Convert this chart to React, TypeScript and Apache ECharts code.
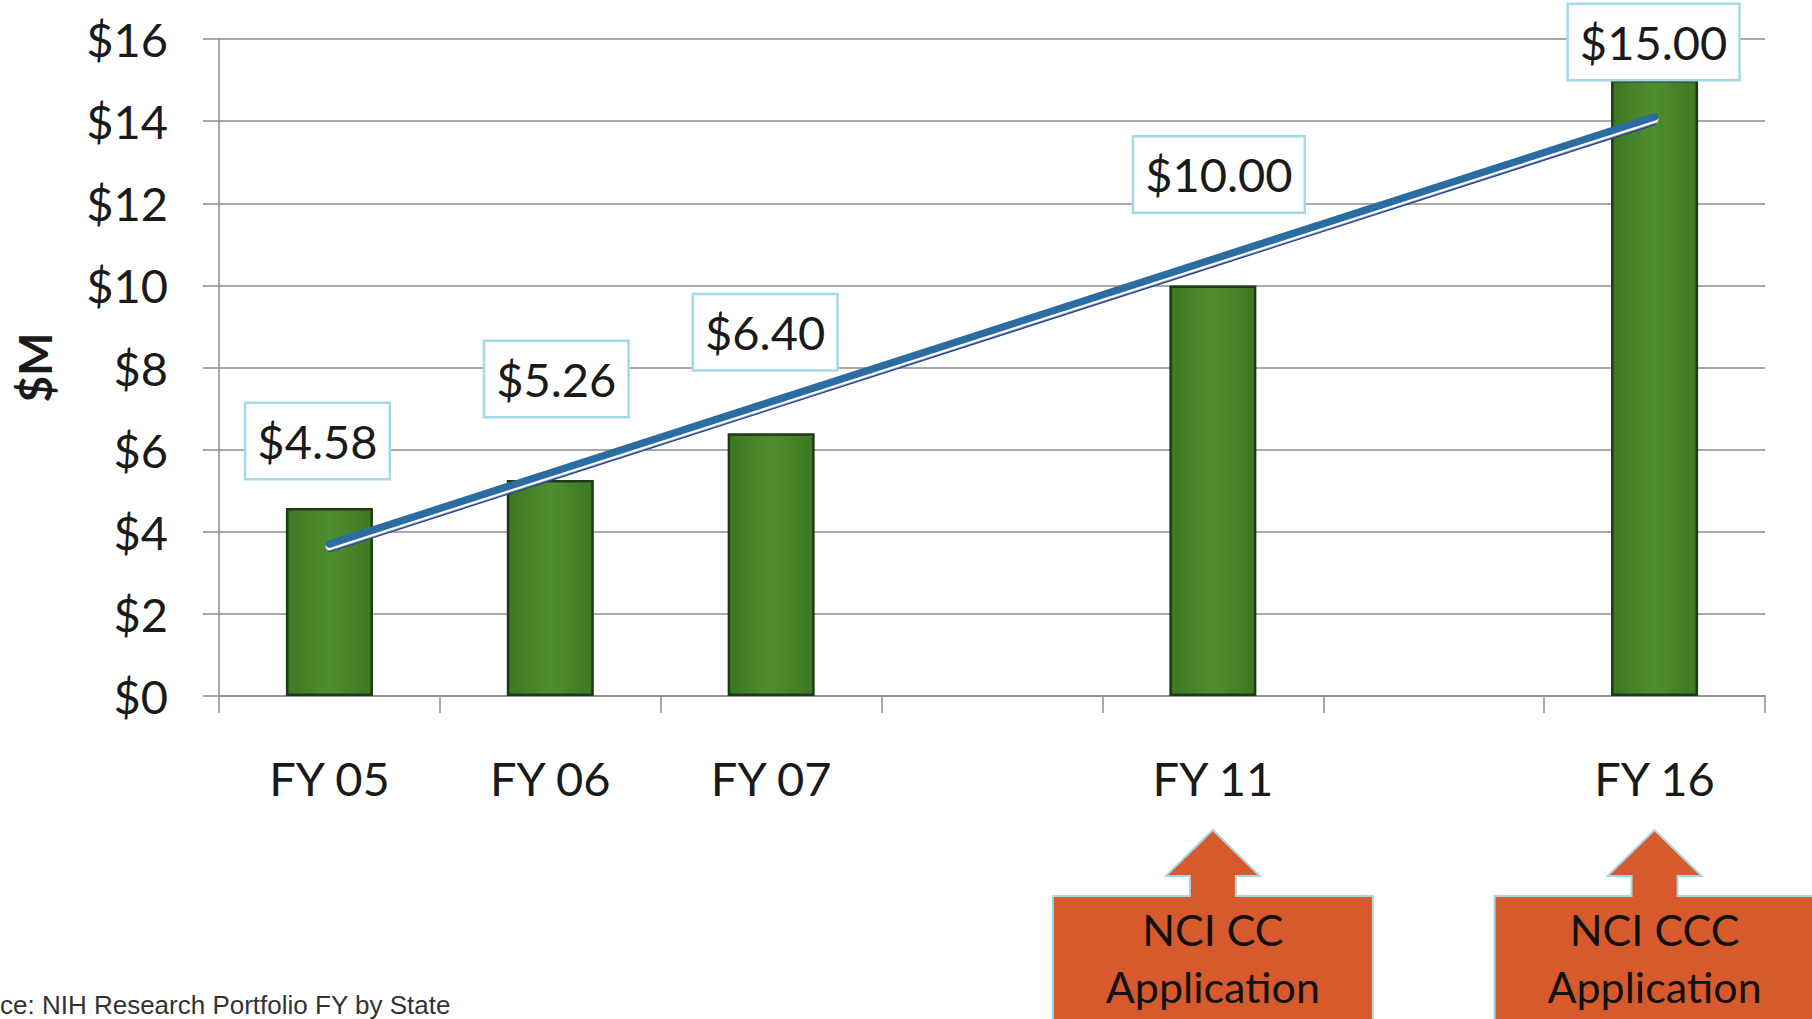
import React, { useEffect, useRef } from "react";
import * as echarts from "echarts";

// ---- data ----
const categories: string[] = ["FY 05", "FY 06", "FY 07", "", "FY 11", "", "FY 16"];
const fundingValues: (number | null)[] = [4.58, 5.26, 6.4, null, 10.0, null, 15.0];
// trend line end points
const trendValues: (number | null)[] = [3.7, null, null, null, null, null, 14.1];
const yMin = 0;
const yMax = 16;
const yStep = 2;
const callouts = [
  { category: "FY 11", lines: ["NCI CC", "Application"] },
  { category: "FY 16", lines: ["NCI CCC", "Application"] },
];
const sourceText = "ce: NIH Research Portfolio FY by State";

// ---- styles ----
const labelOffsets: number[][] = [[-12, -30], [6, -64], [-6, -64], [0, 0], [6, -74], [0, 0], [-1, -1]];
const FONT = "Lato, 'Open Sans', sans-serif";
const GRID_COLOR = "#8c8c8c";
const TEXT_COLOR = "#1a1a1a";
const TREND_COLOR = "#2a6da2";
const TREND_DARK = "#22428a";

export default function App() {
  const ref = useRef<HTMLDivElement>(null);

  useEffect(() => {
    if (!ref.current) return;
    const chart = echarts.init(ref.current, null, { renderer: "svg" });

    const barGradient = new echarts.graphic.LinearGradient(0, 0, 1, 0, [
      { offset: 0, color: "#3c7723" },
      { offset: 0.5, color: "#4f8e2e" },
      { offset: 1, color: "#3d7823" },
    ]);

    const option: any = {
      animation: false,
      backgroundColor: "#ffffff",
      grid: {
        left: 219,
        right: 47,
        top: 39,
        bottom: 323,
        containLabel: false,
        outerBoundsMode: "none",
      },
      xAxis: {
        type: "category",
        data: categories,
        boundaryGap: true,
        axisLine: { show: true, lineStyle: { color: GRID_COLOR, width: 1.5 } },
        axisTick: { show: true, interval: 0, length: 17, lineStyle: { color: GRID_COLOR, width: 1.5 } },
        axisLabel: { interval: 0, margin: 58, fontFamily: FONT, fontSize: 47, color: TEXT_COLOR },
        splitLine: { show: false },
      },
      yAxis: {
        type: "value",
        min: yMin,
        max: yMax,
        interval: yStep,
        name: "$M",
        nameLocation: "middle",
        nameGap: 162,
        nameRotate: 90,
        nameTextStyle: { fontFamily: FONT, fontWeight: "bold", fontSize: 46, color: TEXT_COLOR },
        axisLine: { show: true, lineStyle: { color: GRID_COLOR, width: 1.5 } },
        axisTick: { show: true, length: 16, lineStyle: { color: GRID_COLOR, width: 1.5 } },
        axisLabel: {
          margin: 51,
          formatter: (v: number) => "$" + v,
          fontFamily: FONT,
          fontSize: 47,
          color: TEXT_COLOR,
        },
        splitLine: { show: true, lineStyle: { color: GRID_COLOR, width: 1.5 } },
      },
      series: [
        {
          type: "bar",
          data: fundingValues.map((v, i) =>
            v == null ? null : { value: v, label: { offset: labelOffsets[i] } }
          ),
          barWidth: 87,
          itemStyle: { color: barGradient, borderColor: "#1e3a12", borderWidth: 2.5 },
          label: {
            show: true,
            position: "top",
            distance: 0,
            formatter: (p: any) => "$" + Number(p.value).toFixed(2),
            fontFamily: FONT,
            fontSize: 47,
            color: TEXT_COLOR,
            backgroundColor: "#ffffff",
            borderColor: "#a6d9e8",
            borderWidth: 2.5,
            padding: [10, 11],
            lineHeight: 54,
          },
          z: 2,
        },
        {
          // thin dark under-line of the trend (drawn as a shadow below the centre)
          type: "line",
          data: trendValues,
          connectNulls: true,
          symbol: "none",
          silent: true,
          lineStyle: {
            color: TREND_DARK,
            width: 2.5,
            cap: "round",
            shadowColor: TREND_DARK,
            shadowOffsetY: 7,
            shadowBlur: 0,
          },
          z: 3,
        },
        {
          // thick main trend line with a white gap beneath it
          type: "line",
          data: trendValues,
          connectNulls: true,
          symbol: "none",
          silent: true,
          lineStyle: {
            color: TREND_COLOR,
            width: 7.5,
            cap: "round",
            shadowColor: "#ffffff",
            shadowOffsetY: 2.5,
            shadowBlur: 0,
          },
          z: 4,
        },
      ],
    };

    chart.setOption(option);

    const graphics: any[] = [];
    callouts.forEach((c) => {
      const cx = chart.convertToPixel({ xAxisIndex: 0 }, c.category) as number;
      const pts = [
        [cx, 830],
        [cx + 47, 876],
        [cx + 23, 876],
        [cx + 23, 896],
        [cx + 160, 896],
        [cx + 160, 1040],
        [cx - 160, 1040],
        [cx - 160, 896],
        [cx - 23, 896],
        [cx - 23, 876],
        [cx - 47, 876],
      ];
      graphics.push({
        type: "polygon",
        shape: { points: pts },
        style: { fill: "#d65a2b", stroke: "#a9d6e4", lineWidth: 2 },
        z: 10,
      });
      c.lines.forEach((line, k) => {
        graphics.push({
          type: "text",
          x: cx,
          y: 929 + k * 57,
          style: {
            text: line,
            fontFamily: FONT,
            fontSize: 43,
            fill: "#111111",
            align: "center",
            verticalAlign: "middle",
            textAlign: "center",
            textVerticalAlign: "middle",
          },
          z: 11,
        });
      });
    });
    graphics.push({
      type: "text",
      x: 0,
      y: 1018,
      style: {
        text: sourceText,
        fontFamily: "'Liberation Sans', Arial, sans-serif",
        fontSize: 26,
        lineHeight: 26,
        fill: "#333333",
        align: "left",
        verticalAlign: "bottom",
      },
      z: 11,
    });
    chart.setOption({ graphic: graphics });

    return () => {
      chart.dispose();
    };
  }, []);

  return (
    <div
      ref={ref}
      style={{ position: "fixed", left: 0, top: 0, width: 1812, height: 1019, background: "#fff" }}
    />
  );
}
